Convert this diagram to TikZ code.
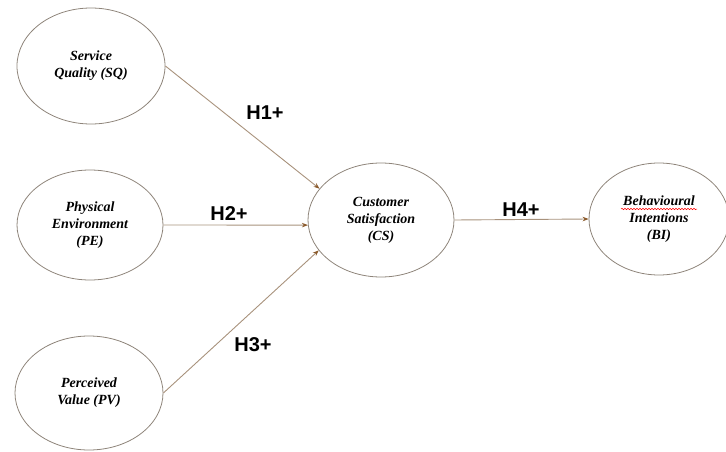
\documentclass[tikz,border=0pt]{standalone}
\usepackage{fontspec}
\setmainfont{Liberation Serif}
\newfontfamily\hypfont{Liberation Sans}
\usetikzlibrary{shapes.geometric,arrows.meta,decorations.pathmorphing}

\definecolor{rimgray}{HTML}{8E847A}
\definecolor{linkbrown}{HTML}{A8927C}
\definecolor{tipbrown}{HTML}{8B5A2B}

\tikzset{
  construct/.style={draw=rimgray, ellipse, line width=0.8pt, inner sep=0pt,
    align=center, font=\fontsize{14}{17}\selectfont\bfseries\itshape},
  hyp/.style={font=\hypfont\fontsize{20}{24}\selectfont\bfseries},
  link/.style={draw=linkbrown, line width=0.9pt,
    -{Stealth[length=6pt,width=4.5pt,color=tipbrown]}}
}

\begin{document}
\begin{tikzpicture}[x=1pt,y=-1pt]
        \useasboundingbox (0,0) rectangle (726,452);
        % constructs
        \node[construct, minimum width=148pt, minimum height=116pt] (sq) at (91,66) {Service\\Quality (SQ)};
        \node[construct, minimum width=146pt, minimum height=110pt] (pe) at (90,225) {Physical\\Environment\\(PE)};
        \node[construct, minimum width=148pt, minimum height=114pt] (pv) at (89,393) {Perceived\\Value (PV)};
        \node[construct, minimum width=146pt, minimum height=114pt] (cs) at (381,220) {Customer\\Satisfaction\\(CS)};
        \node[construct, minimum width=140pt, minimum height=112pt] (bi) at (659,219) {Behavioural\\Intentions\\(BI)};
        % spell-check mark under Behavioural
        \draw[red, line width=0.5pt, decorate, decoration={snake, amplitude=0.7pt, segment length=3pt}]
          ([xshift=-38pt,yshift=10pt]bi.center) -- ([xshift=38pt,yshift=10pt]bi.center);
        % hypotheses
        \draw[link] (sq.east) -- (cs.153);
        \draw[link] (pe.east) -- (cs.184);
        \draw[link] (pv.east) -- (cs.206);
        \draw[link] (cs.east) -- (bi.west);
        \node[hyp] (h1) at (265,113) {H1+};
        \node[hyp] (h2) at (229,214) {H2+};
        \node[hyp] (h3) at (253,345) {H3+};
        \node[hyp] (h4) at (521,210) {H4+};
\end{tikzpicture}
\end{document}
